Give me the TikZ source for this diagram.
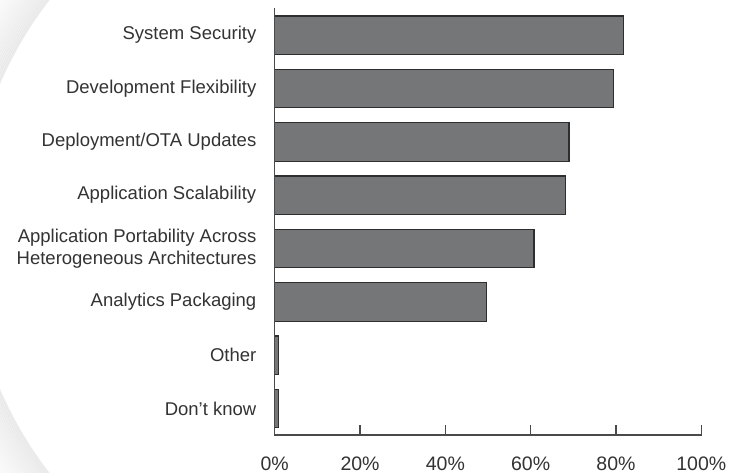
\documentclass[tikz,border=0pt]{standalone}
\usepackage{fontspec}
\setmainfont{Liberation Sans}
\definecolor{txt}{HTML}{333333}
\definecolor{barfill}{HTML}{757677}
\definecolor{baredge}{HTML}{2E2E2E}
\definecolor{axiscol}{HTML}{4A4A4A}
\begin{document}
\begin{tikzpicture}[x=1pt,y=-1pt,
  lbl/.style={anchor=east,text=txt,font=\fontsize{18.5}{21.5}\selectfont,align=right,inner sep=0pt},
  ticklbl/.style={anchor=base,text=txt,font=\fontsize{19.5}{22}\selectfont,inner sep=0pt},
  barbox/.style={fill=barfill,draw=baredge,line width=1.2pt},
  axisline/.style={draw=axiscol,line width=1.4pt}]
\useasboundingbox (0,0) rectangle (730,473);
% faint background disc shadow (left side only)
\begin{scope}
\clip (0,0) rectangle (300,473);
\foreach \i in {0,...,24}{
  \pgfmathsetmacro{\mix}{100-\i*4}
  \draw[line width=2.2pt,draw=black!\mix!white,opacity=0.07] (354.8,236.5) circle[radius=386.8+\i*2];
}
\fill[white] (354.8,236.5) circle[radius=385.8];
\end{scope}
% bars
\def\xz{274.7}
\def\pc{4.266}
\foreach \v [count=\k from 0] in {81.7,79.4,69.0,68.2,60.8,49.7,0.8,0.8}{
  \draw[barbox] (\xz,16+\k*53.33) rectangle (\xz+\v*\pc,54.5+\k*53.33);
}
% labels
\node[lbl] (l1) at (256.5,35.2) {System Security};
\node[lbl] (l2) at (256.5,88.5) {Development Flexibility};
\node[lbl] (l3) at (256.5,141.8) {Deployment/OTA Updates};
\node[lbl] (l4) at (256.5,195.2) {Application Scalability};
\node[lbl] (l5) at (256.5,248.5) {Application Portability Across\\Heterogeneous Architectures};
\node[lbl] (l6) at (256.5,301.8) {Analytics Packaging};
\node[lbl] (l7) at (256.5,355.2) {Other};
\node[lbl] (l8) at (256.5,408.5) {Don’t know};
% axes
\coordinate (ytop) at (\xz,9);
\coordinate (orig) at (\xz,435);
\coordinate (xend) at (701.3,435);
\draw[axisline,line cap=rect] (ytop) -- (orig) -- (xend);
\foreach \t [count=\k from 0] in {0,20,40,60,80,100}{
  \coordinate (t\k) at (\xz+\t*\pc,435);
  \draw[axisline] (t\k) -- ++(0,-10);
  \node[ticklbl] (tl\k) at ([yshift=-35pt]t\k) {\t\%};
}
\end{tikzpicture}
\end{document}
